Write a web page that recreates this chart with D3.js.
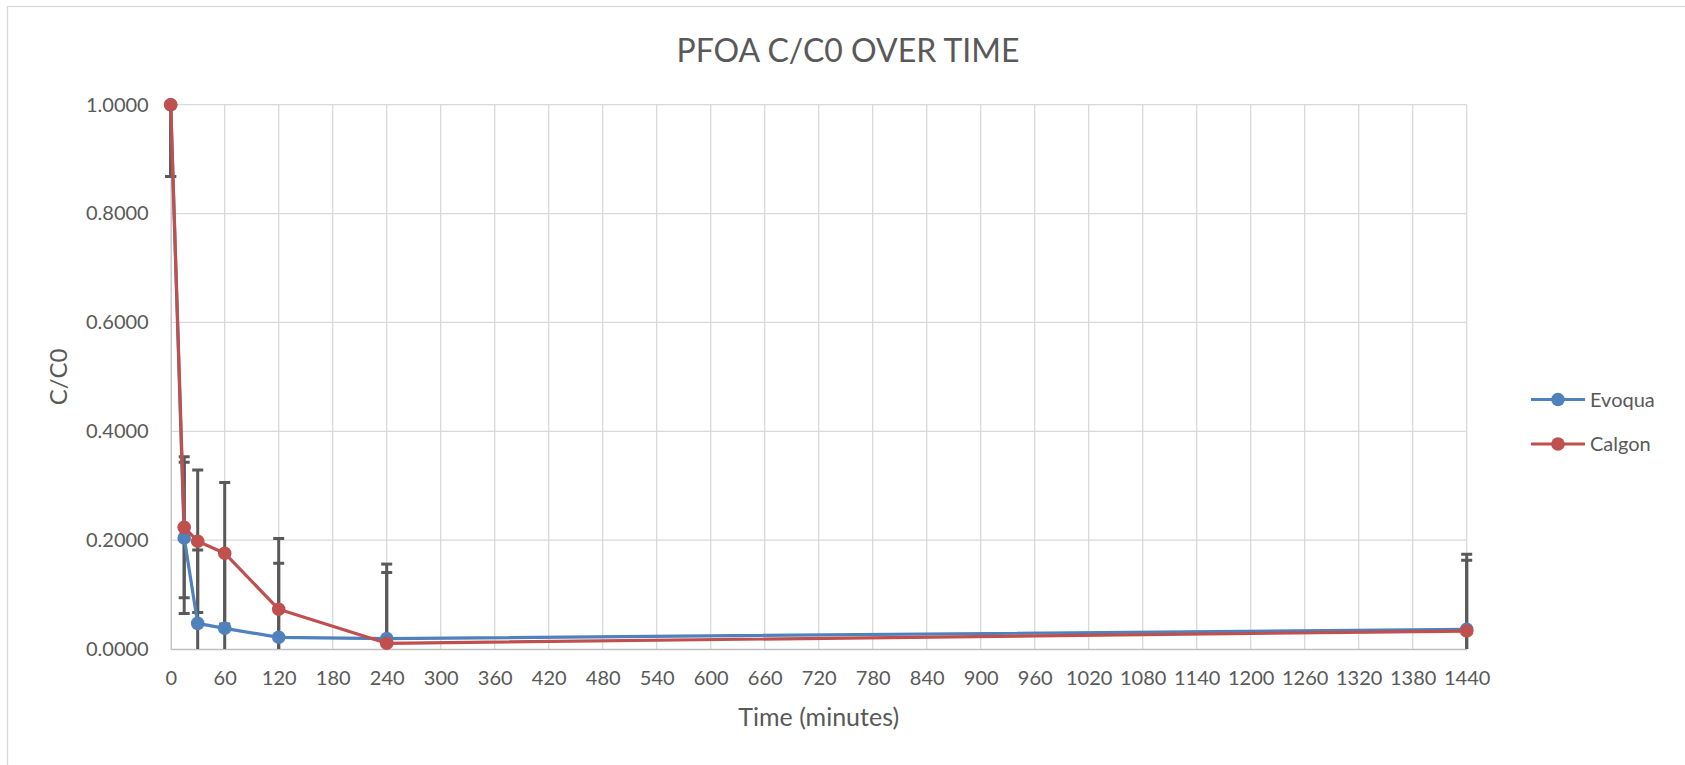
<!DOCTYPE html>
<html lang="en">
  <head>
    <meta charset="UTF-8" />
    <title>PFOA C/C0 Over Time</title>
    <script src="https://d3js.org/d3.v7.min.js"></script>
    <style>
      body {
        margin: 0;
        background: #ffffff;
        font-family: Lato, 'Open Sans', sans-serif;
      }
      svg text {
        fill: #595959;
      }
    </style>
  </head>
  <body>
    <svg id="chart" width="1685" height="765"></svg>

    <script>
      // data
      const times = [0, 15, 30, 60, 120, 240, 1440];
      const evoqua = [1.0, 0.204, 0.047, 0.038, 0.0215, 0.019, 0.036];
      const evoquaErr = [0.132, 0.139, 0.135, 0.135, 0.136, 0.137, 0.138];
      const calgon = [1.0, 0.2235, 0.198, 0.176, 0.073, 0.0105, 0.033];
      const calgonErr = [0.132, 0.1295, 0.131, 0.13, 0.13, 0.13, 0.13];

      const xTicks = [
        0, 60, 120, 180, 240, 300, 360, 420, 480, 540, 600, 660, 720, 780,
        840, 900, 960, 1020, 1080, 1140, 1200, 1260, 1320, 1380, 1440,
      ];
      const yTicks = [0, 0.2, 0.4, 0.6, 0.8, 1.0];

      const series = [
        { name: 'Evoqua', values: evoqua, err: evoquaErr, color: '#4f81bd' },
        { name: 'Calgon', values: calgon, err: calgonErr, color: '#c0504d' },
      ];

      const svg = d3.select('#chart');
      const pLeft = 170.7,
        pRight = 1466.7,
        pTop = 104.7,
        pBottom = 649;

      const x = d3.scaleLinear().domain([0, 1440]).range([pLeft, pRight]);
      const y = d3.scaleLinear().domain([0, 1]).range([pBottom, pTop]);

      // chart area border
      svg
        .append('rect')
        .attr('x', 7.5)
        .attr('y', 6.5)
        .attr('width', 1800)
        .attr('height', 900)
        .attr('fill', 'none')
        .attr('stroke', '#d9d9d9')
        .attr('stroke-width', 1.3);

      svg
        .append('defs')
        .append('clipPath')
        .attr('id', 'plotclip')
        .append('rect')
        .attr('x', pLeft - 10)
        .attr('y', pTop)
        .attr('width', pRight - pLeft + 20)
        .attr('height', pBottom - pTop);

      // gridlines
      svg
        .append('g')
        .selectAll('line')
        .data(xTicks.slice(1))
        .join('line')
        .attr('x1', (d) => x(d))
        .attr('x2', (d) => x(d))
        .attr('y1', pTop)
        .attr('y2', pBottom)
        .attr('stroke', '#d9d9d9')
        .attr('stroke-width', 1.3);
      svg
        .append('g')
        .selectAll('line')
        .data(yTicks.slice(1))
        .join('line')
        .attr('x1', pLeft)
        .attr('x2', pRight)
        .attr('y1', (d) => y(d))
        .attr('y2', (d) => y(d))
        .attr('stroke', '#d9d9d9')
        .attr('stroke-width', 1.3);

      // axes
      const xAxis = svg
        .append('g')
        .attr('transform', `translate(0,${pBottom})`)
        .call(
          d3
            .axisBottom(x)
            .tickValues(xTicks)
            .tickSize(0)
            .tickPadding(22)
            .tickFormat((d) => d),
        );
      xAxis.select('.domain').attr('stroke', '#bfbfbf').attr('stroke-width', 1.3);
      xAxis
        .selectAll('text')
        .style('font-family', 'Lato')
        .style('font-size', '20px')
        .attr('fill', '#595959');

      const yAxis = svg
        .append('g')
        .attr('transform', `translate(${pLeft},0)`)
        .call(
          d3
            .axisLeft(y)
            .tickValues(yTicks)
            .tickSize(0)
            .tickPadding(22)
            .tickFormat(d3.format('.4f')),
        );
      yAxis.select('.domain').attr('stroke', '#bfbfbf').attr('stroke-width', 1.3);
      yAxis
        .selectAll('text')
        .style('font-family', 'Lato')
        .style('font-size', '20px')
        .attr('fill', '#595959');

      // error bars
      const errG = svg.append('g').attr('clip-path', 'url(#plotclip)');
      series.forEach((s) => {
        const pts = times.map((t, i) => ({
          t: t,
          lo: s.values[i] - s.err[i],
          hi: s.values[i] + s.err[i],
        }));
        errG
          .append('g')
          .selectAll('line')
          .data(pts)
          .join('line')
          .attr('x1', (d) => x(d.t))
          .attr('x2', (d) => x(d.t))
          .attr('y1', (d) => y(d.lo))
          .attr('y2', (d) => y(d.hi))
          .attr('stroke', '#595959')
          .attr('stroke-width', 3);
        ['lo', 'hi'].forEach((k) => {
          errG
            .append('g')
            .selectAll('line')
            .data(pts)
            .join('line')
            .attr('x1', (d) => x(d.t) - 5.5)
            .attr('x2', (d) => x(d.t) + 5.5)
            .attr('y1', (d) => y(d[k]))
            .attr('y2', (d) => y(d[k]))
            .attr('stroke', '#595959')
            .attr('stroke-width', 3);
        });
      });

      // lines + markers
      const line = d3
        .line()
        .x((d) => x(d[0]))
        .y((d) => y(d[1]));
      series.forEach((s) => {
        const pts = times.map((t, i) => [t, s.values[i]]);
        svg
          .append('path')
          .datum(pts)
          .attr('d', line)
          .attr('fill', 'none')
          .attr('stroke', s.color)
          .attr('stroke-width', 3.2)
          .attr('stroke-linejoin', 'round');
        svg
          .append('g')
          .selectAll('circle')
          .data(pts)
          .join('circle')
          .attr('cx', (d) => x(d[0]))
          .attr('cy', (d) => y(d[1]))
          .attr('r', 6.8)
          .attr('fill', s.color);
      });

      // title
      svg
        .append('text')
        .attr('x', 848)
        .attr('y', 62)
        .attr('text-anchor', 'middle')
        .style('font-size', '32px')
        .text('PFOA C/C0 OVER TIME');

      // axis titles
      svg
        .append('text')
        .attr('x', (pLeft + pRight) / 2)
        .attr('y', 726)
        .attr('text-anchor', 'middle')
        .style('font-size', '25px')
        .text('Time (minutes)');
      svg
        .append('text')
        .attr('transform', `translate(67,${(pTop + pBottom) / 2}) rotate(-90)`)
        .attr('text-anchor', 'middle')
        .style('font-size', '24px')
        .text('C/C0');

      // legend
      const legend = svg
        .append('g')
        .selectAll('g')
        .data(series)
        .join('g')
        .attr('transform', (d, i) => `translate(1531,${399.5 + i * 44.5})`);
      legend
        .append('line')
        .attr('x1', 0)
        .attr('x2', 54)
        .attr('stroke', (d) => d.color)
        .attr('stroke-width', 3.2);
      legend
        .append('circle')
        .attr('cx', 27)
        .attr('r', 6.8)
        .attr('fill', (d) => d.color);
      legend
        .append('text')
        .attr('x', 59)
        .attr('y', 7)
        .style('font-size', '20px')
        .text((d) => d.name);
    </script>
  </body>
</html>
